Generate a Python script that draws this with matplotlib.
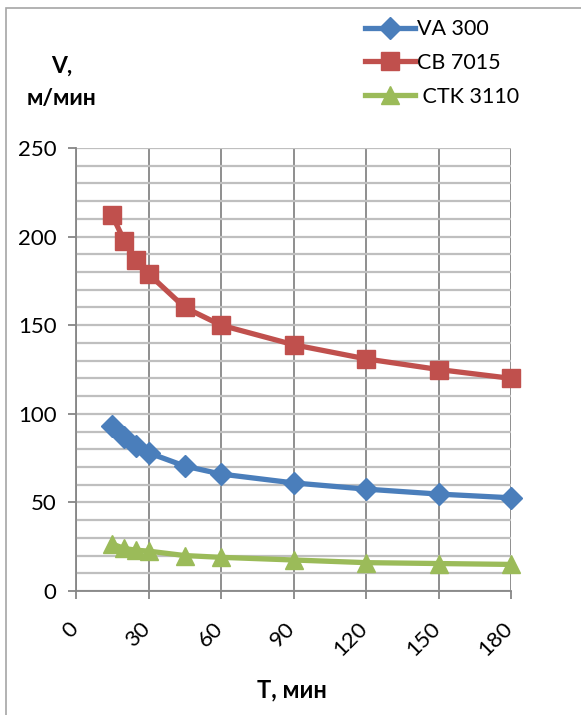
import matplotlib
matplotlib.use("Agg")
import matplotlib.pyplot as plt
from matplotlib.patches import Rectangle
from matplotlib.ticker import MultipleLocator
from matplotlib.transforms import ScaledTranslation

plt.rcParams['font.family'] = ['Lato', 'DejaVu Sans']

# stand life T, min
T = [15, 20, 25, 30, 45, 60, 90, 120, 150, 180]
# cutting speed V, m/min
va300 = [93, 87, 82, 78, 70.5, 66, 61, 57.5, 54.7, 52.6]
cb7015 = [212, 197.5, 187, 179, 160, 150, 139, 131, 125, 120]
ctk3110 = [26.5, 24, 23, 22.5, 20, 19, 17.5, 16, 15.5, 15]

names = ['VA 300', 'CB 7015', ' CTK 3110']
colors = ['#4a7ebb', '#c0504d', '#9bbb59']
markers = ['D', 's', '^']
msizes = [11, 13.5, 13]

fig = plt.figure(figsize=(5.81, 7.15), dpi=100)
ax = fig.add_axes([76 / 581, 1 - 591 / 715, 435 / 581, 443 / 715])

# chart frame
fig.patches.append(Rectangle((6 / 581, -0.1), 1.2, 1.1 - 8 / 715, transform=fig.transFigure,
                             fill=False, edgecolor='#a6a6a6', linewidth=1.2))

lines = []
for y, c, m, ms, n in zip([va300, cb7015, ctk3110], colors, markers, msizes, names):
    ln, = ax.plot(T, y, color=c, linewidth=3.8, marker=m, markersize=ms,
                  markeredgecolor=c, label=n, zorder=3, clip_on=False)
    lines.append(ln)

ax.set_xlim(0, 180)
ax.set_ylim(0, 250)
ax.xaxis.set_major_locator(MultipleLocator(30))
ax.yaxis.set_major_locator(MultipleLocator(50))
ax.yaxis.set_minor_locator(MultipleLocator(10))
ax.grid(True, which='both', axis='y', color='#bfbfbf', linewidth=1.6, zorder=0)
ax.grid(True, which='major', axis='x', color='#868686', linewidth=1.3, zorder=0)
ax.set_axisbelow(True)

for s in ['top', 'right']:
    ax.spines[s].set_visible(False)
for s in ['left', 'bottom']:
    ax.spines[s].set_color('#868686')
    ax.spines[s].set_linewidth(1.3)

ax.tick_params(axis='y', which='major', length=6, width=1.3, color='#868686',
               labelsize=16, pad=8)
ax.tick_params(axis='y', which='minor', length=0)
ax.tick_params(axis='x', which='major', length=6, width=1.3, color='#868686',
               labelsize=16, pad=10)
shift = ScaledTranslation(-6 / 72, -4 / 72, fig.dpi_scale_trans)
for lbl in ax.get_xticklabels():
    lbl.set_rotation(45)
    lbl.set_ha('right')
    lbl.set_va('top')
    lbl.set_rotation_mode('anchor')
    lbl.set_transform(lbl.get_transform() + shift)

fig.text(62 / 581, 1 - 66 / 715, 'V,', ha='center', va='center', fontsize=16.5, fontweight='bold')
fig.text(62 / 581, 1 - 99 / 715, 'м/мин', ha='center', va='center', fontsize=16.5, fontweight='bold')
fig.text(292 / 581, 1 - 690 / 715, 'T, мин', ha='center', va='center', fontsize=17, fontweight='bold')

fig.legend(handles=lines, loc='upper left', bbox_to_anchor=(350 / 581, 1 - 4 / 715),
           frameon=False, fontsize=15.5, handlelength=2.3, handletextpad=0.1,
           labelspacing=0.64, borderpad=0.2, numpoints=1)

fig.savefig('out.png', dpi=100)
